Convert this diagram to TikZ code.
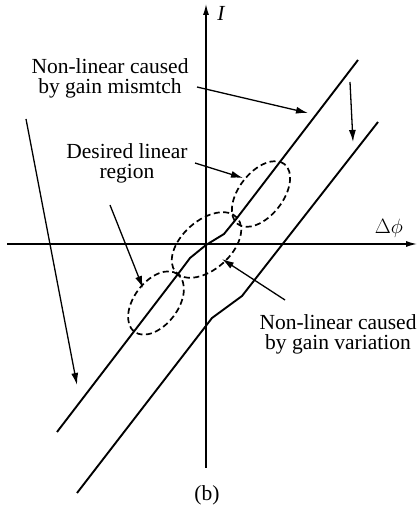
\documentclass[tikz,border=0pt]{standalone}
\usepackage{fontspec}
\setmainfont{Liberation Serif}
\usetikzlibrary{arrows.meta}
\begin{document}
\begin{tikzpicture}[x=1pt,y=1pt,
  axis/.style={line width=1.3pt,-{Latex[length=11pt,width=6pt]}},
  curve/.style={line width=1.9pt,line join=round},
  ell/.style={line width=1.7pt,dash pattern=on 6pt off 3.5pt},
  pointer/.style={line width=1.3pt,-{Latex[length=12pt,width=7pt]}},
  lbl/.style={font=\fontsize{21.5}{20}\selectfont,align=center,inner sep=0pt}]
\useasboundingbox (0,0) rectangle (418,507);
% axes
\coordinate (xs) at (7,263);
\coordinate (xe) at (417,263);
\coordinate (ys) at (206,39);
\coordinate (ye) at (206,503);
\draw[axis] (xs) -- (xe);
\draw[axis] (ys) -- (ye);
\node[lbl] (lI) at (221,494) {\itshape I};
\node[lbl] (ldphi) at (389,279) {$\Delta\phi$};
\node[lbl] (lb) at (207,12) {(b)};
% curves
\draw[curve] (57,75) -- (178,233) -- (190,249) -- (206,262) -- (224,273) -- (237,289) -- (358,447);
\draw[curve] (77,14) -- (212,189) -- (242,211) -- (378,385);
% ellipses
\node[coordinate] (eu) at (261,313) {};
\node[coordinate] (em) at (206.5,262) {};
\node[coordinate] (el) at (156,204) {};
\draw[ell] (eu) ellipse [x radius=38, y radius=22, rotate=52];
\draw[ell] (em) ellipse [x radius=41, y radius=24.5, rotate=41.5];
\draw[ell] (el) ellipse [x radius=36, y radius=22, rotate=53];
% labels
\node[lbl] (tmis) at (110,429) {Non-linear caused\\by gain mismtch};
\node[lbl] (tdes) at (127,344) {Desired linear\\region};
\node[lbl] (tvar) at (338,173) {Non-linear caused\\by gain variation};
% pointer coordinates
\coordinate (a1s) at (197,420); \coordinate (a1e) at (308,394);
\coordinate (a2s) at (350,425); \coordinate (a2e) at (353,365);
\coordinate (a3s) at (26,388);  \coordinate (a3e) at (77,122);
\coordinate (a4s) at (195,344); \coordinate (a4e) at (243,329);
\coordinate (a5s) at (110,302); \coordinate (a5e) at (143,219);
\coordinate (a6s) at (285,207); \coordinate (a6e) at (222,248);
\draw[pointer] (a1s) -- (a1e);
\draw[pointer] (a2s) -- (a2e);
\draw[pointer] (a3s) -- (a3e);
\draw[pointer] (a4s) -- (a4e);
\draw[pointer] (a5s) -- (a5e);
\draw[pointer] (a6s) -- (a6e);
\end{tikzpicture}
\end{document}
